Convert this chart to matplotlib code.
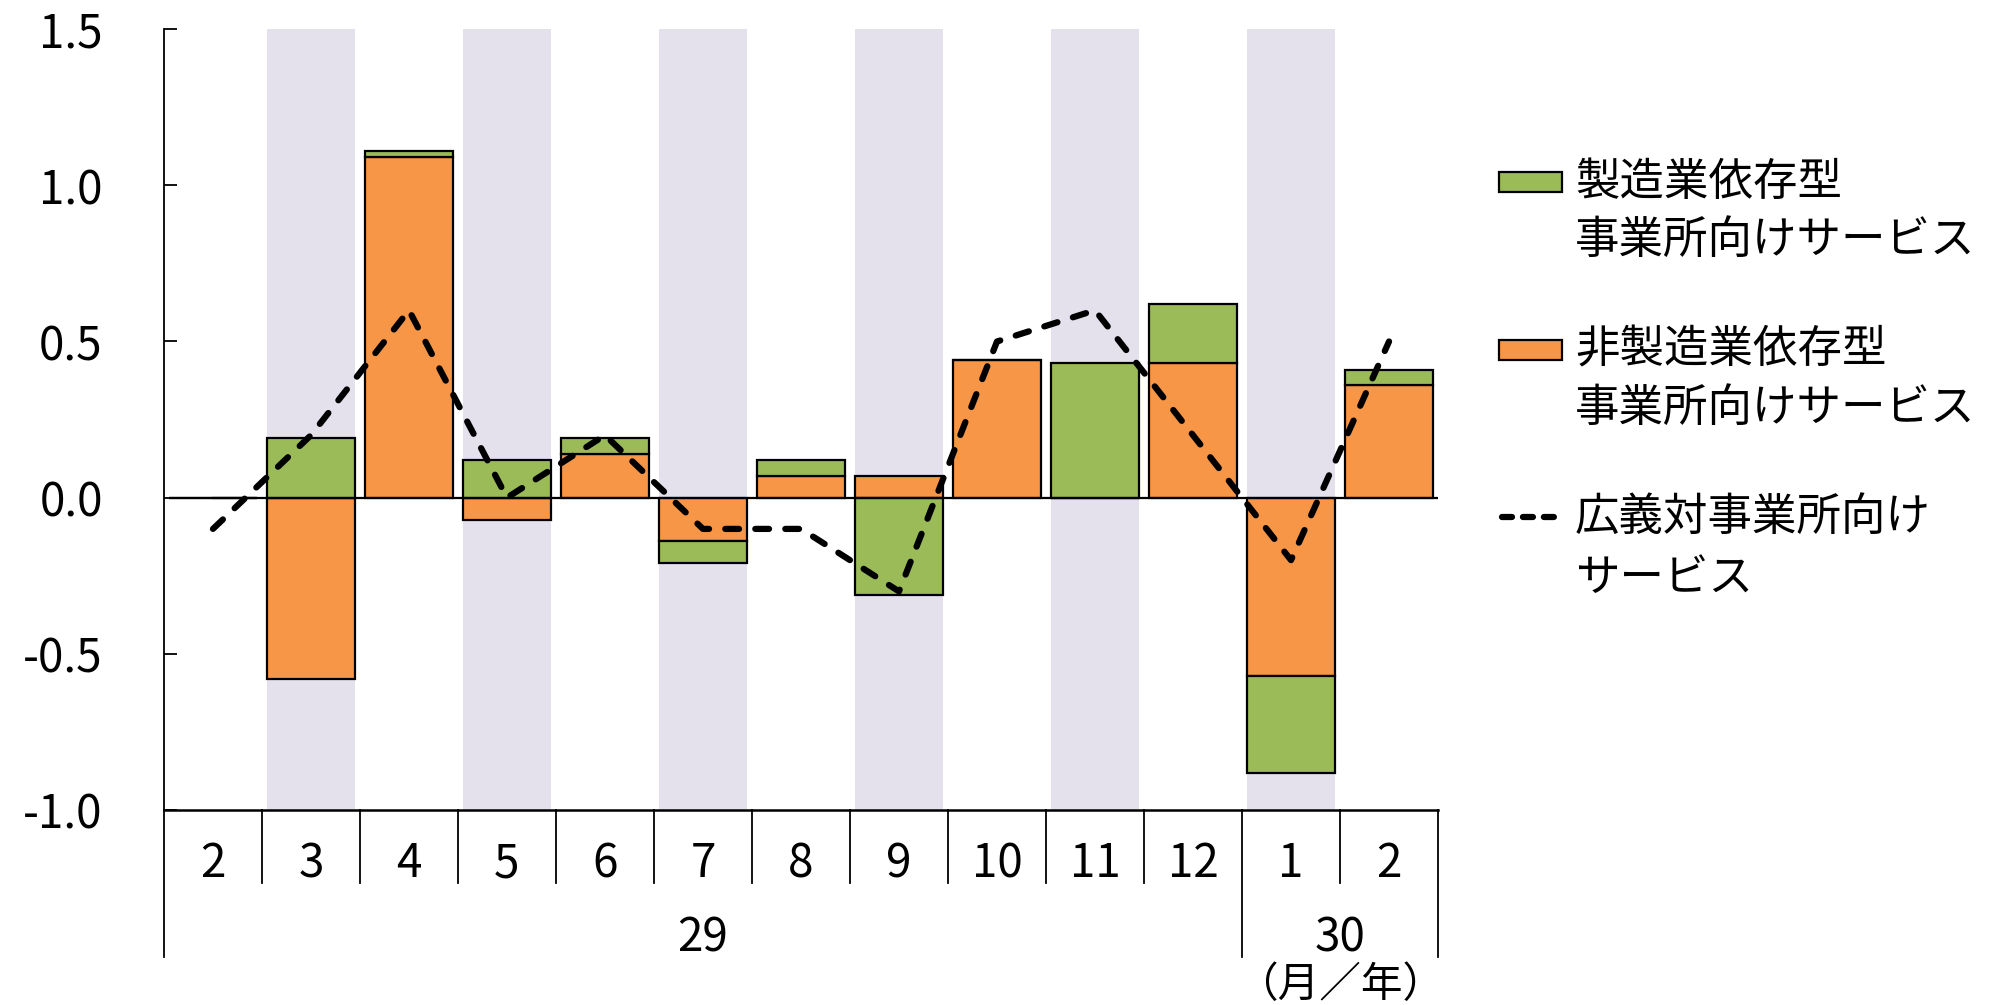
import matplotlib
matplotlib.use('Agg')
import matplotlib.pyplot as plt
import numpy as np

plt.rcParams['font.family'] = ['Noto Sans CJK JP', 'DejaVu Sans']

# data
months = ['2', '3', '4', '5', '6', '7', '8', '9', '10', '11', '12', '1', '2']
years = ['29', '30']
manuf = [0.0, 0.19, 0.02, 0.12, 0.05, -0.07, 0.05, -0.31, 0.0, 0.43, 0.19, -0.31, 0.05]
nonmanuf = [0.0, -0.58, 1.09, -0.07, 0.14, -0.14, 0.07, 0.07, 0.44, 0.0, 0.43, -0.57, 0.36]
broad = [-0.1, 0.2, 0.6, 0.0, 0.2, -0.1, -0.1, -0.3, 0.5, 0.6, 0.2, -0.2, 0.5]

c_green = '#9BBB59'
c_orange = '#F79646'
c_shade = '#E4E0EC'

fig = plt.figure(figsize=(19.97, 10.05), dpi=100)
ax = fig.add_axes([0.0821, 0.194, 0.638, 0.777])

x = np.arange(len(months))
w = 0.9

# shaded bands on every other month
for i in range(1, len(months), 2):
    ax.axvspan(i - w / 2, i + w / 2, color=c_shade, lw=0, zorder=0)

nm = np.array(nonmanuf)
mf = np.array(manuf)
# orange first, green stacked on it (positives and negatives separately)
nm_bottom = np.zeros(len(x))
mf_bottom = np.where(mf >= 0, np.where(nm > 0, nm, 0), np.where(nm < 0, nm, 0))

ax.bar(x, nm, w, bottom=nm_bottom, color=c_orange, edgecolor='black', lw=1.6, zorder=2)
ax.bar(x, mf, w, bottom=mf_bottom, color=c_green, edgecolor='black', lw=1.6, zorder=2)

# zero line
ax.plot([0, 12.5], [0, 0], color='black', lw=1.6, zorder=3)

ax.plot(x, broad, color='black', lw=4.5, linestyle=(0, (2.2, 2.6)),
        dash_capstyle='round', zorder=4)

ax.set_xlim(-0.5, 12.5)
ax.set_ylim(-1.0, 1.5)
ax.set_yticks([-1.0, -0.5, 0.0, 0.5, 1.0, 1.5])
ax.set_yticklabels(['-1.0', '-0.5', '0.0', '0.5', '1.0', '1.5'])
ax.tick_params(axis='y', direction='in', length=9, width=1.3, pad=44, labelsize=33)
ax.set_xticks([])
for s in ['top', 'right']:
    ax.spines[s].set_visible(False)
ax.spines['left'].set_linewidth(1.3)
ax.spines['bottom'].set_linewidth(1.8)

# category table under the axis
tr = ax.get_xaxis_transform()
for b in np.arange(0.5, 12.5, 1.0):
    lo = -0.188 if b == 10.5 else -0.0935
    ax.plot([b, b], [0, lo], transform=tr, color='black', lw=1.3, clip_on=False)
for b in [-0.5, 12.5]:
    ax.plot([b, b], [0, -0.188], transform=tr, color='black', lw=1.3, clip_on=False)

for i, m in enumerate(months):
    ax.text(i, -0.069, m, transform=tr, ha='center', va='center', fontsize=33)
ax.text(5.0, -0.164, years[0], transform=tr, ha='center', va='center', fontsize=33)
ax.text(11.5, -0.164, years[1], transform=tr, ha='center', va='center', fontsize=33)
ax.text(11.5, -0.225, '（月／年）', transform=tr, ha='center', va='center', fontsize=30)

# legend drawn by hand
fs = 32
tx = 1575 / 1997
def fy(py):
    return 1 - py / 1005

fig.patches.append(plt.Rectangle((1499 / 1997, fy(192)), 63 / 1997, 20 / 1005,
                                 transform=fig.transFigure, facecolor=c_green,
                                 edgecolor='black', lw=1.6))
fig.text(tx, fy(182), '製造業依存型', fontsize=fs, va='center')
fig.text(tx, fy(240), '事業所向けサービス', fontsize=fs, va='center')

fig.patches.append(plt.Rectangle((1499 / 1997, fy(360)), 63 / 1997, 20 / 1005,
                                 transform=fig.transFigure, facecolor=c_orange,
                                 edgecolor='black', lw=1.6))
fig.text(tx, fy(350), '非製造業依存型', fontsize=fs, va='center')
fig.text(tx, fy(408), '事業所向けサービス', fontsize=fs, va='center')

fig.lines.append(plt.Line2D([1502 / 1997, 1560 / 1997], [fy(517), fy(517)],
                            transform=fig.transFigure, color='black', lw=4.5,
                            linestyle=(0, (1.6, 1.75)), dash_capstyle='round'))
fig.text(tx, fy(517), '広義対事業所向け', fontsize=fs, va='center')
fig.text(tx, fy(578), 'サービス', fontsize=fs, va='center')

fig.savefig('out.png', dpi=100)
